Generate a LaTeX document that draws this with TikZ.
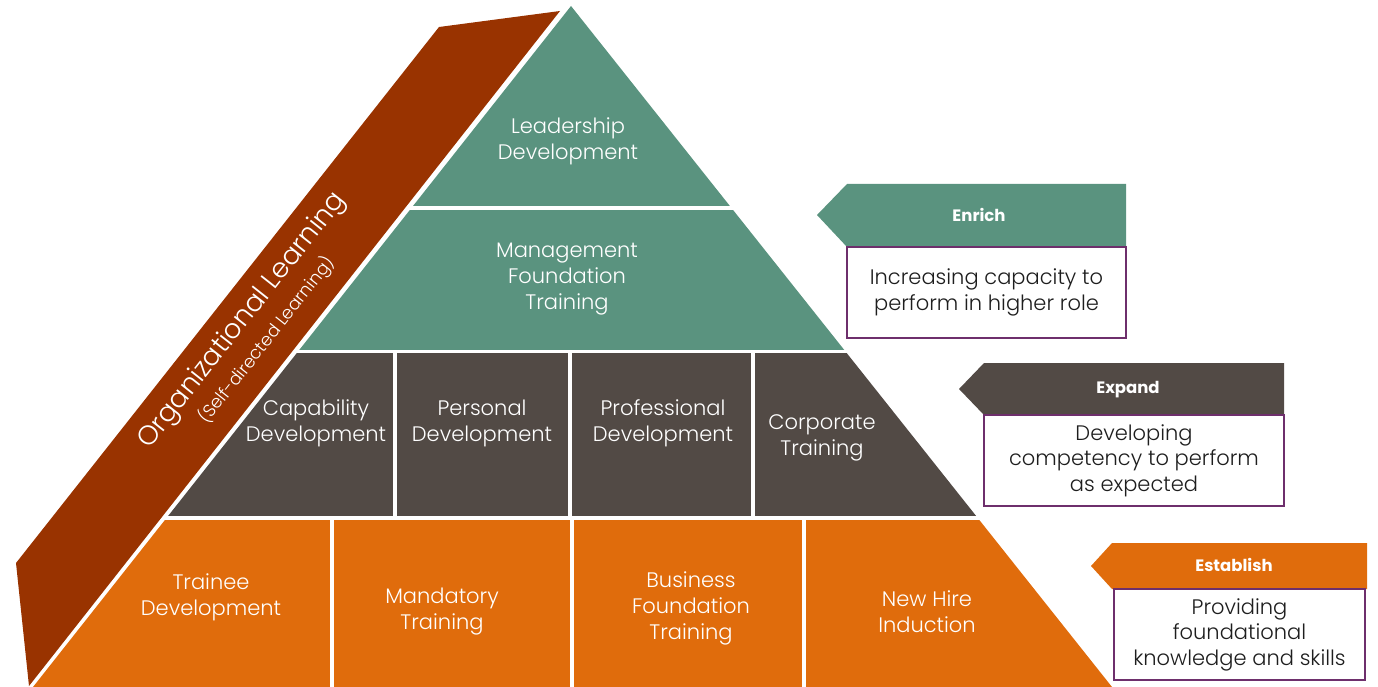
\documentclass[tikz,border=0pt]{standalone}
\usepackage{fontspec}
\setmainfont{Poppins Light}
\newfontfamily\tagfont{Poppins}
\definecolor{tealc}{HTML}{5A937F}
\definecolor{grayc}{HTML}{524A45}
\definecolor{orangec}{HTML}{E06C0C}
\definecolor{brownc}{HTML}{993300}
\definecolor{purplec}{HTML}{6E2F6C}
\definecolor{txtc}{HTML}{1E1E1E}
\begin{document}
\begin{tikzpicture}[x=1pt,y=-1pt,
  celltext/.style={text=white,align=center,inner sep=0pt,font=\fontsize{21}{26}\selectfont},
  desctext/.style={draw=purplec,line width=2pt,fill=white,text=txtc,align=center,inner sep=0pt,font=\fontsize{21}{25.5}\selectfont},
  tagtext/.style={text=white,inner sep=0pt,font=\tagfont\fontsize{16.5}{19}\selectfont\bfseries}]
\useasboundingbox (0,0) rectangle (1378,687);
% organizational learning band
\fill[brownc] (439,27) -- (560,11) -- (29,686) -- (16,563) -- cycle;
\node[text=white,rotate=51.7,inner sep=0pt,font=\fontsize{27}{30}\selectfont] (org) at (242.5,321) {Organizational Learning};
\node[text=white,rotate=51.7,inner sep=0pt,font=\fontsize{17.5}{20}\selectfont] (self) at (266.5,340) {(Self-directed Learning)};
% pyramid
\begin{scope}
\clip (571,6) -- (33,687) -- (1112,687) -- cycle;
\fill[tealc] (0,0) rectangle (1378,206.5);
\fill[tealc] (0,210) rectangle (1378,349.5);
\fill[grayc] (0,353) rectangle (392.5,516);
\fill[grayc] (397,353) rectangle (567.5,516);
\fill[grayc] (572,353) rectangle (750.5,516);
\fill[grayc] (755,353) rectangle (1378,516);
\fill[orangec] (0,519.5) rectangle (329.5,690);
\fill[orangec] (334,519.5) rectangle (569.5,690);
\fill[orangec] (574,519.5) rectangle (801.5,690);
\fill[orangec] (806,519.5) rectangle (1378,690);
\end{scope}
\node[celltext] (lead) at (568,141) {Leadership\\Development};
\node[celltext] (mgmt) at (567,279) {Management\\Foundation\\Training};
\node[celltext] (cap) at (316,423) {Capability\\Development};
\node[celltext] (pers) at (482,423) {Personal\\Development};
\node[celltext] (prof) at (663,423) {Professional\\Development};
\node[celltext] (corp) at (822,438) {Corporate\\Training};
\node[celltext] (train) at (211,597) {Trainee\\Development};
\node[celltext] (mand) at (442,612) {Mandatory\\Training};
\node[celltext] (bus) at (691,608) {Business\\Foundation\\Training};
\node[celltext] (nhi) at (927,612) {New Hire\\Induction};
% side tags
\fill[tealc] (817,215) -- (847,184) -- (1126,184) -- (1126,247) -- (847,247) -- cycle;
\node[tagtext] (enrich) at (979,215) {Enrich};
\node[desctext,minimum width=279pt,minimum height=91pt] (enrichbox) at (986.5,292.5) {Increasing capacity to\\perform in higher role};
\fill[grayc] (959,389) -- (984,363) -- (1284,363) -- (1284,415) -- (984,415) -- cycle;
\node[tagtext] (expand) at (1128,390) {Expand};
\node[desctext,minimum width=300pt,minimum height=91pt] (expandbox) at (1134,460.5) {Developing\\competency to perform\\as expected};
\fill[orangec] (1091,566) -- (1112,543) -- (1367,543) -- (1367,589) -- (1112,589) -- cycle;
\node[tagtext] (establish) at (1234,565) {Establish};
\node[desctext,minimum width=251pt,minimum height=91pt] (establishbox) at (1239.5,634.5) {Providing\\foundational\\knowledge and skills};
\end{tikzpicture}
\end{document}
